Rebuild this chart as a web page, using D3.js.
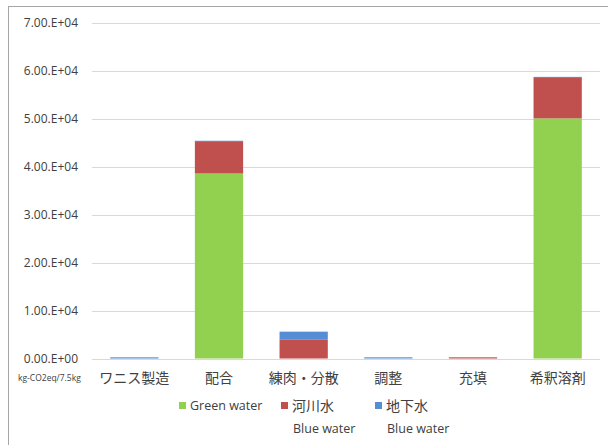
<!DOCTYPE html>
<html><head><meta charset="utf-8">
<script src="https://cdn.jsdelivr.net/npm/d3@7"></script>
<style>
body{margin:0;background:#fff;}
text{font-family:"Open Sans","Noto Sans CJK JP",sans-serif;fill:#404040;}
</style></head>
<body><svg id="c" width="608" height="445"></svg>
<script>
const categories = ["ワニス製造","配合","練肉・分散","調整","充填","希釈溶剤"];
const greenWater = [0, 38600, 0, 0, 0, 50100];
const riverWater = [0, 6750, 4000, 0, 250, 8600];
const groundWater = [250, 80, 1600, 250, 0, 60];
const yTicks = [0,10000,20000,30000,40000,50000,60000,70000];
const yTickLabels = ["0.00.E+00","1.00.E+04","2.00.E+04","3.00.E+04","4.00.E+04","5.00.E+04","6.00.E+04","7.00.E+04"];
const seriesNames = ["Green water","河川水","地下水"];
const seriesSub = ["","Blue water","Blue water"];
const colors = ["#92d050","#c0504d","#558ed5"];

const svg = d3.select("#c");
// frame
svg.append("line").attr("x1",8.5).attr("x2",8.5).attr("y1",6).attr("y2",445).attr("stroke","#a6a6a6");
svg.append("line").attr("x1",8).attr("x2",608).attr("y1",6.5).attr("y2",6.5).attr("stroke","#a6a6a6");

const x = d3.scaleBand().domain(categories).range([92,600]).paddingInner(0.43).paddingOuter(0.215);
const y = d3.scaleLinear().domain([0,70000]).range([358.5,23]);

const gy = svg.append("g");
yTicks.forEach((t,i)=>{
  gy.append("line").attr("x1",92).attr("x2",600).attr("y1",Math.round(y(t))+0.5).attr("y2",Math.round(y(t))+0.5).attr("stroke","#d9d9d9");
  gy.append("text").attr("x",78).attr("y",y(t)).attr("dy","0.35em").attr("text-anchor","end").attr("font-size","12px").text(yTickLabels[i]);
});

const data = categories.map((c,i)=>({cat:c, g:greenWater[i], r:riverWater[i], b:groundWater[i]}));
const stack = d3.stack().keys(["g","r","b"])(data);
svg.append("g").selectAll("g").data(stack).join("g").attr("fill",(d,i)=>colors[i])
  .selectAll("rect").data(d=>d).join("rect")
  .attr("x",d=>x(d.data.cat)).attr("width",x.bandwidth())
  .attr("y",d=>y(d[1])).attr("height",d=>Math.max(0,y(d[0])-y(d[1])));

categories.forEach(c=>{
  svg.append("text").attr("x",x(c)+x.bandwidth()/2).attr("y",378).attr("dy","0.35em").attr("text-anchor","middle").attr("font-size","14px").text(c);
});
svg.append("text").attr("x",18).attr("y",378).attr("dy","0.35em").attr("font-size","8.5px").text("kg-CO2eq/7.5kg");

const lx = [179,281,375];
seriesNames.forEach((n,i)=>{
  svg.append("rect").attr("x",lx[i]).attr("y",402).attr("width",7).attr("height",7).attr("fill",colors[i]);
  svg.append("text").attr("x",lx[i]+11).attr("y",406).attr("dy","0.35em").attr("font-size",i===0?"12.5px":"14px").text(n);
  if(seriesSub[i]) svg.append("text").attr("x",lx[i]+12).attr("y",429).attr("dy","0.35em").attr("font-size","12.5px").text(seriesSub[i]);
});
</script></body></html>
